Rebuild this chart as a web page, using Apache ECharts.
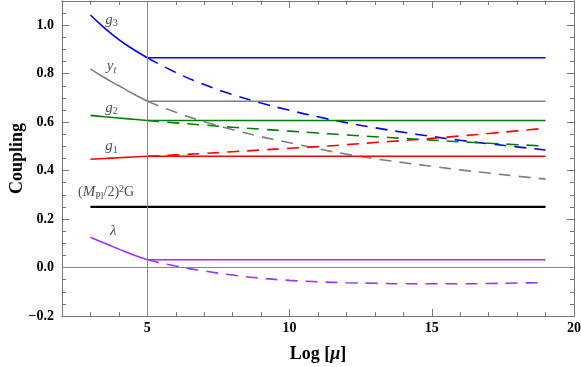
<!DOCTYPE html>
<html>
<head>
<meta charset="utf-8">
<script src="https://cdn.jsdelivr.net/npm/echarts@6/dist/echarts.min.js"></script>
<style>
  html, body { margin: 0; padding: 0; background: #fff; }
  #chart { width: 581px; height: 367px; }
</style>
</head>
<body>
<div id="chart"></div>
<script>
// x positions: the curved part below the threshold, the flat solid part, the dashed running part
var xLeft = [3, 3.5, 4, 4.5, 5];
var xFlat = [5, 19];
var xDash = [5, 6, 7, 8, 9, 10, 11, 12, 13, 14, 15, 16, 17, 18, 19];
var xGrav = [3, 19];

var g3Left = [1.042, 0.988, 0.941, 0.901, 0.866];
var g3Flat = [0.866, 0.866];
var g3Dash = [0.866, 0.805, 0.755, 0.714, 0.679, 0.649, 0.622, 0.598, 0.577, 0.558, 0.541, 0.525, 0.511, 0.498, 0.485];

var ytLeft = [0.820, 0.783, 0.750, 0.717, 0.686];
var ytFlat = [0.686, 0.686];
var ytDash = [0.686, 0.641, 0.602, 0.569, 0.540, 0.515, 0.490, 0.468, 0.449, 0.433, 0.418, 0.403, 0.390, 0.377, 0.365];

var g2Left = [0.628, 0.622, 0.617, 0.612, 0.607];
var g2Flat = [0.607, 0.607];
var g2Dash = [0.607, 0.597, 0.588, 0.579, 0.571, 0.563, 0.555, 0.547, 0.540, 0.533, 0.526, 0.519, 0.513, 0.507, 0.501];

var g1Left = [0.447, 0.450, 0.453, 0.456, 0.459];
var g1Flat = [0.459, 0.459];
var g1Dash = [0.459, 0.465, 0.471, 0.478, 0.485, 0.492, 0.499, 0.507, 0.516, 0.524, 0.533, 0.543, 0.553, 0.564, 0.575];

var gravVals = [0.25, 0.25];

var lamLeft = [0.125, 0.100, 0.076, 0.053, 0.032];
var lamFlat = [0.032, 0.032];
var lamDash = [0.032, 0.006, -0.014, -0.031, -0.044, -0.053, -0.059, -0.063, -0.065, -0.067, -0.067, -0.067, -0.066, -0.064, -0.062];

var xTicks = [5, 10, 15, 20];
var yTicks = [-0.2, 0, 0.2, 0.4, 0.6, 0.8, 1.0];

var curveNames = ['g3', 'yt', 'g2', 'g1', 'lam'];
var curveColors = ['#0000ff', '#808080', '#008000', '#ff0000', '#9933ff'];
var leftData = [g3Left, ytLeft, g2Left, g1Left, lamLeft];
var flatData = [g3Flat, ytFlat, g2Flat, g1Flat, lamFlat];
var dashData = [g3Dash, ytDash, g2Dash, g1Dash, lamDash];

var labelText = [
    '{i|g}{s|3}',
    '{i|y}{si|t}',
    '{i|g}{s|2}',
    '{i|g}{s|1}',
    '{n|(}{i|M}{s|Pl}{n|/2)}{p|2}{n|G}',
    '{i|λ}'
];
var labelPos = [[3.74, 1.023], [3.74, 0.831], [3.74, 0.66], [3.74, 0.502], [3.55, 0.31], [3.8, 0.152]];

function zip(xs, ys) {
    return xs.map(function(x, i) { return [x, ys[i]]; });
}

var serif = 'Liberation Serif';
var frameColor = '#777';

function xAxisDef(pos, major) {
    var a = {
        type: 'value', min: 2, max: 20, position: pos,
        axisLine: { show: true, onZero: false, lineStyle: { color: frameColor, width: 1 } },
        splitLine: { show: false },
        axisTick: { inside: true, length: major ? 7 : 4, lineStyle: { color: frameColor } },
        axisLabel: { show: false }
    };
    if (major) {
        a.axisTick.customValues = xTicks;
        a.axisLabel = {
            show: pos === 'bottom', customValues: xTicks, margin: 5,
            fontFamily: serif, fontWeight: 'bold', fontSize: 14, color: '#000'
        };
        if (pos === 'bottom') {
            a.name = 'Log [{m|μ}]';
            a.nameLocation = 'middle';
            a.nameGap = 29;
            a.nameMoveOverlap = false;
            a.nameTextStyle = {
                fontFamily: serif, fontWeight: 'bold', fontSize: 18, color: '#000',
                rich: { m: { fontFamily: serif, fontStyle: 'italic', fontWeight: 'bold', fontSize: 18, color: '#000' } }
            };
        }
    } else {
        a.interval = 1;
    }
    return a;
}

function yAxisDef(pos, major) {
    var a = {
        type: 'value', min: -0.2, max: 1.1, position: pos,
        axisLine: { show: true, onZero: false, lineStyle: { color: frameColor, width: 1 } },
        splitLine: { show: false },
        axisTick: { inside: true, length: major ? 7 : 4, lineStyle: { color: frameColor } },
        axisLabel: { show: false }
    };
    if (major) {
        a.axisTick.customValues = yTicks;
        a.axisLabel = {
            show: pos === 'left', customValues: yTicks, margin: 8,
            fontFamily: serif, fontWeight: 'bold', fontSize: 14, color: '#000',
            formatter: function(v) { return v.toFixed(1).replace('-', '\u2212'); }
        };
        if (pos === 'left') {
            a.name = 'Coupling';
            a.nameLocation = 'middle';
            a.nameGap = 36;
            a.nameMoveOverlap = false;
            a.nameTextStyle = { fontFamily: serif, fontWeight: 'bold', fontSize: 18, color: '#000' };
        }
    } else {
        a.interval = 0.05;
    }
    return a;
}

var series = [];
curveNames.forEach(function(name, k) {
    series.push({
        name: name + ' run', type: 'line', data: zip(xLeft, leftData[k]),
        showSymbol: false, symbol: 'none', smooth: true,
        lineStyle: { color: curveColors[k], width: 1.6 }
    });
    series.push({
        name: name + ' flat', type: 'line', data: zip(xFlat, flatData[k]),
        showSymbol: false, symbol: 'none',
        lineStyle: { color: curveColors[k], width: 1.6 }
    });
    series.push({
        name: name + ' dashed', type: 'line', data: zip(xDash, dashData[k]),
        showSymbol: false, symbol: 'none', smooth: true,
        lineStyle: { color: curveColors[k], width: 1.6, type: [12, 8] }
    });
});
series.push({
    name: 'gravity', type: 'line', data: zip(xGrav, gravVals),
    showSymbol: false, symbol: 'none',
    lineStyle: { color: '#000', width: 2.2 },
    markLine: {
        silent: true, symbol: 'none', label: { show: false },
        lineStyle: { color: '#888', width: 1, type: 'solid' },
        data: [{ xAxis: 5 }, { yAxis: 0 }]
    }
});
var italic = { fontFamily: serif, fontStyle: 'italic', fontSize: 15, color: '#222', lineHeight: 20, verticalAlign: 'middle' };
series.push({
    name: 'labels', type: 'scatter', symbolSize: 0, silent: true,
    data: labelPos.map(function(p, i) {
        return { value: p, label: { formatter: labelText[i] } };
    }),
    label: {
        show: true, position: 'inside',
        rich: {
            i: italic,
            n: { fontFamily: serif, fontSize: 14, color: '#222', lineHeight: 20, verticalAlign: 'middle' },
            s: { fontFamily: serif, fontSize: 10, color: '#222', lineHeight: 20, verticalAlign: 'bottom', padding: [0, 0, 1, 0] },
            si: { fontFamily: serif, fontStyle: 'italic', fontSize: 10, color: '#222', lineHeight: 20, verticalAlign: 'bottom', padding: [0, 0, 1, 0] },
            p: { fontFamily: serif, fontSize: 10, color: '#222', lineHeight: 20, verticalAlign: 'top', padding: [2, 0, 0, 0] }
        }
    }
});

var myChart = echarts.init(document.getElementById('chart'));
myChart.setOption({
    animation: false,
    backgroundColor: '#fff',
    grid: { left: 62, right: 7, top: 1, bottom: 51, containLabel: false, outerBoundsMode: 'none' },
    xAxis: [xAxisDef('bottom', true), xAxisDef('bottom', false), xAxisDef('top', true), xAxisDef('top', false)],
    yAxis: [yAxisDef('left', true), yAxisDef('left', false), yAxisDef('right', true), yAxisDef('right', false)],
    series: series
});
</script>
</body>
</html>
